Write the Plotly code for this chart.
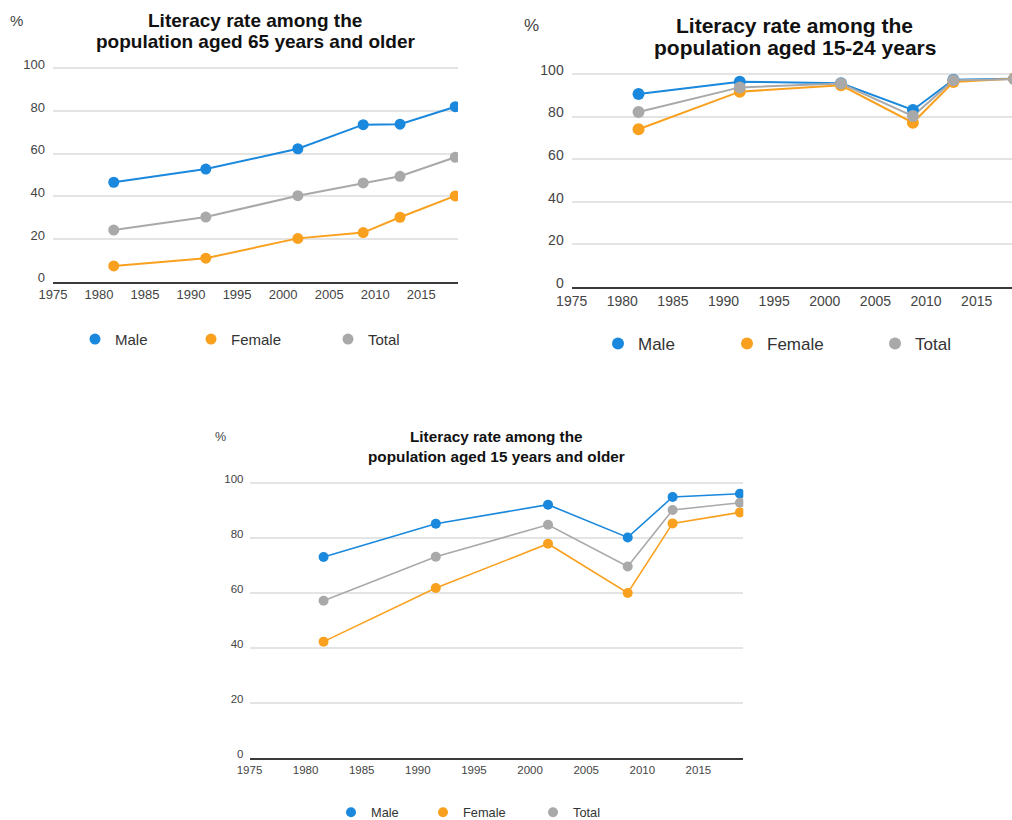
import plotly.graph_objects as go

# Survey years (positioned by mid-year on the time axis)
years = [1981.6, 1991.6, 2001.6, 2008.7, 2012.7, 2018.7]

# Literacy rate (%), population aged 65 and older
old_male = [46.6, 52.8, 62.3, 73.6, 73.8, 82.0]
old_female = [7.4, 11.0, 20.3, 23.0, 30.2, 40.2]
old_total = [24.2, 30.3, 40.3, 46.3, 49.4, 58.3]

# Literacy rate (%), population aged 15-24
youth_male = [90.6, 96.4, 95.6, 83.1, 97.3, 97.8]
youth_female = [74.0, 91.7, 94.7, 77.1, 96.2, 97.8]
youth_total = [82.1, 93.7, 95.5, 80.2, 97.1, 97.6]

# Literacy rate (%), population aged 15 and older
adult_male = [73.0, 85.1, 92.0, 80.1, 94.8, 96.0]
adult_female = [42.2, 61.7, 77.8, 59.9, 85.2, 89.2]
adult_total = [57.1, 73.1, 84.7, 69.5, 90.1, 92.7]

series_names = ["Male", "Female", "Total"]
series_colors = ["#1a88dc", "#f9a11e", "#a9a9a9"]
x_tick_years = [1975, 1980, 1985, 1990, 1995, 2000, 2005, 2010, 2015]
y_ticks = [0, 20, 40, 60, 80, 100]

titles = [
    ["Literacy rate among the", "population aged 65 years and older"],
    ["Literacy rate among the", "population aged 15-24 years"],
    ["Literacy rate among the", "population aged 15 years and older"],
]

W, H = 1012, 820
SANS = "Liberation Sans, Arial, sans-serif"


def px_x(v):
    return v / W


def px_y(v):
    return 1 - v / H


# panel geometry in pixels: plot left/right, y of 0 and of 100
panels = [
    dict(data=[old_male, old_female, old_total], left=53, right=458, y0=281.7, y100=68.3,
         xrange=[1975, 2019], tick=13, ystand=7, msize=11, lw=2,
         title_font=19, title_x=255.5, title_y=[20, 41.7],
         pct=(16.7, 20, 15),
         legend=dict(x=75, y=339.3, size=15, widths=[71, 92, 40])),
    dict(data=[youth_male, youth_female, youth_total], left=571.7, right=1012, y0=286.7, y100=74,
         xrange=[1975, 1975 + (1012 - 571.7) / 10.125], tick=14, ystand=7, msize=12, lw=2,
         title_font=21, title_x=794.5, title_y=[25.7, 47.3],
         pct=(531.7, 25.7, 17),
         legend=dict(x=598, y=344, size=17, widths=[84, 103, 40])),
    dict(data=[adult_male, adult_female, adult_total], left=249.5, right=743.3, y0=757.7, y100=482.7,
         xrange=[1975, 2019], tick=11.5, ystand=5, msize=10, lw=1.6,
         title_font=15.3, title_x=496.5, title_y=[436, 456.7],
         pct=(220.3, 436.7, 12.5),
         legend=dict(x=331, y=812.5, size=12.8, widths=[47, 65, 40])),
]

fig = go.Figure()
annotations = []
layout = {}

for i, p in enumerate(panels):
    k = "" if i == 0 else str(i + 1)
    xa, ya = "x" + k, "y" + k
    leg = "legend" + k

    # line segments first, markers drawn on top
    for name, vals, color in zip(series_names, p["data"], series_colors):
        fig.add_trace(go.Scatter(
            x=years, y=vals, mode="lines", xaxis=xa, yaxis=ya,
            line=dict(color=color, width=p["lw"]), showlegend=False,
            legendgroup=f"{name}{k}", hoverinfo="skip"))
    for name, vals, color in zip(series_names, p["data"], series_colors):
        fig.add_trace(go.Scatter(
            x=years, y=vals, mode="markers", xaxis=xa, yaxis=ya, name=name,
            marker=dict(color=color, size=p["msize"]), legend=leg,
            legendgroup=f"{name}{k}",
            legendwidth=p["legend"]["widths"][series_names.index(name)]))

    per = (p["y0"] - p["y100"]) / 100
    top_px = p["y0"] - 101 * per
    layout["xaxis" + k] = dict(
        domain=[px_x(p["left"]), min(1, px_x(p["right"]))], range=p["xrange"],
        anchor=ya, tickvals=x_tick_years, showgrid=False, zeroline=False,
        showline=True, linecolor="#3a3a3a", linewidth=2, ticks="",
        automargin=False,
        tickfont=dict(family=SANS, size=p["tick"], color="#444"),
        fixedrange=True)
    layout["yaxis" + k] = dict(
        domain=[px_y(p["y0"]), px_y(top_px)], range=[0, 101], anchor=xa,
        tickvals=y_ticks, showgrid=True, gridcolor="#e4e4e4", gridwidth=1.5,
        zeroline=False, showline=False, ticks="", ticklabelshift=-4,
        ticklabelstandoff=p["ystand"], automargin=False,
        tickfont=dict(family=SANS, size=p["tick"], color="#444"),
        fixedrange=True)

    lg = p["legend"]
    layout[leg] = dict(
        orientation="h", x=px_x(lg["x"]), y=px_y(lg["y"]), xanchor="left",
        yanchor="middle", bgcolor="rgba(0,0,0,0)",
        font=dict(family=SANS, size=lg["size"], color="#333"))

    for line, ty in zip(titles[i], p["title_y"]):
        annotations.append(dict(
            text=f"<b>{line}</b>", x=px_x(p["title_x"]), y=px_y(ty),
            xref="paper", yref="paper", xanchor="center", yanchor="middle",
            showarrow=False, font=dict(family=SANS, size=p["title_font"], color="#111")))
    cx, cy, cs = p["pct"]
    annotations.append(dict(
        text="%", x=px_x(cx), y=px_y(cy), xref="paper", yref="paper",
        xanchor="center", yanchor="middle", showarrow=False,
        font=dict(family=SANS, size=cs, color="#444")))

fig.update_layout(
    width=W, height=H, margin=dict(l=0, r=0, t=0, b=0, autoexpand=False),
    paper_bgcolor="white", plot_bgcolor="white",
    annotations=annotations, **layout)

fig.write_html("out.html")
